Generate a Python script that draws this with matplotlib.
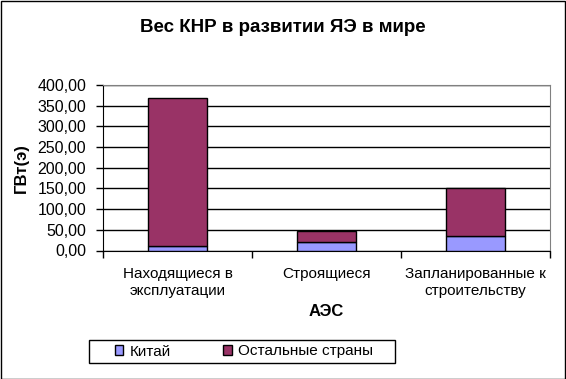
import matplotlib
matplotlib.use("Agg")
import matplotlib.pyplot as plt
import numpy as np

plt.rcParams['font.family'] = ['Liberation Sans', 'DejaVu Sans']

categories = ["Находящиеся в\nэксплуатации", "Строящиеся", "Запланированные к\nстроительству"]
china = [10.5, 20.0, 36.0]
others = [358.5, 26.0, 114.0]
series_names = ["Китай", "Остальные страны"]
yticks = [0, 50, 100, 150, 200, 250, 300, 350, 400]
ytick_labels = ["0,00", "50,00", "100,00", "150,00", "200,00", "250,00", "300,00", "350,00", "400,00"]

W, H = 566, 379
fig = plt.figure(figsize=(W/100, H/100), dpi=100)
fig.patch.set_facecolor('white')
# figure border
fig.patches.append(plt.Rectangle((0.5/W, 0.5/H), 1-1.5/W, 1-1.5/H, transform=fig.transFigure,
                                 fill=False, edgecolor='black', linewidth=1))

ax = fig.add_axes([103/W, 1-250.5/H, (550-103)/W, (250.5-85)/H])
x = np.arange(len(categories))
bw = 0.4
ax.bar(x, china, bw, color='#9999FF', edgecolor='black', linewidth=1, label=series_names[0], zorder=3)
ax.bar(x, others, bw, bottom=china, color='#993366', edgecolor='black', linewidth=1, label=series_names[1], zorder=3)

ax.set_xlim(-0.5, 2.5)
ax.set_ylim(0, 400)
ax.set_yticks(yticks)
ax.set_yticklabels(ytick_labels, fontsize=11.5)
ax.yaxis.grid(True, color='black', linewidth=1, zorder=0)
ax.set_axisbelow(True)
ax.set_xticks(x)
ax.set_xticklabels(categories, fontsize=11, linespacing=1.3)
ax.tick_params(axis='x', length=0, pad=12)
ax.set_xticks([-0.5, 0.5, 1.5, 2.5], minor=True)
ax.tick_params(axis='x', which='minor', length=5, width=1, color='black')
ax.tick_params(axis='y', length=5, width=1, color='black', pad=7)

for s in ['top', 'right']:
    ax.spines[s].set_color('#808080')
for s in ['left', 'bottom']:
    ax.spines[s].set_color('black')

ax.set_ylabel("ГВт(э)", fontsize=12, fontweight='bold', labelpad=6)
ax.set_xlabel("АЭС", fontsize=12, fontweight='bold', labelpad=4)

fig.text(283/W, 1-28/H, "Вес КНР в развитии ЯЭ в мире", ha='center', va='center',
         fontsize=13.5, fontweight='bold')

# legend frame (Excel style box)
fig.patches.append(plt.Rectangle((89/W, 1-363/H), (395-89)/W, (363-340)/H, transform=fig.transFigure,
                                 fill=False, edgecolor='black', linewidth=1))
leg = fig.legend(loc='center left', bbox_to_anchor=(115/W, 1-351.5/H), ncol=2, fontsize=11,
                 frameon=False, handlelength=0.55, handleheight=0.55,
                 columnspacing=3.45, handletextpad=0.4, borderpad=0, borderaxespad=0)

fig.savefig("out.png", dpi=100, facecolor='white')
